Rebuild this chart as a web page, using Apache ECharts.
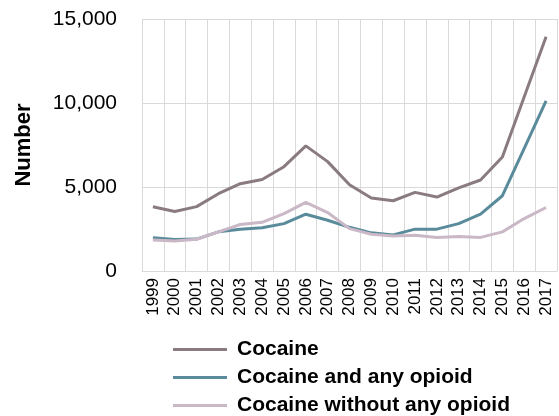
<!DOCTYPE html>
<html>
<head>
<meta charset="utf-8">
<script src="https://cdn.jsdelivr.net/npm/echarts@6/dist/echarts.min.js"></script>
<style>html,body{margin:0;padding:0;background:#fff}#c{width:559px;height:416px}</style>
</head>
<body>
<div id="c"></div>
<script>
const years = ['1999','2000','2001','2002','2003','2004','2005','2006','2007','2008','2009','2010','2011','2012','2013','2014','2015','2016','2017'];
const cocaine = [3822,3544,3833,4599,5199,5443,6208,7448,6512,5129,4350,4183,4681,4404,4944,5415,6784,10375,13942];
const cocaineOpioid = [1976,1880,1900,2330,2490,2570,2820,3380,3020,2600,2270,2150,2490,2490,2820,3380,4480,7300,10130];
const cocaineNoOpioid = [1846,1780,1890,2330,2767,2900,3420,4080,3480,2520,2190,2090,2130,2000,2050,2000,2330,3120,3780];
const yTicks = [0,5000,10000,15000];

const chart = echarts.init(document.getElementById('c'), null, {renderer:'canvas'});
const font = "'Liberation Sans', Arial, sans-serif";
chart.setOption({
  animation:false,
  backgroundColor:'#fff',
  grid:{left:142,right:2,top:19,bottom:145,containLabel:false},
  legend:{
    orient:'vertical', left:173, top:339, height:90, padding:0, icon:'rect', itemWidth:54, itemHeight:3, itemGap:7,
    textStyle:{fontFamily:font,fontSize:21,fontWeight:'bold',color:'#000',lineHeight:18,padding:[0,0,0,5]},
    data:['Cocaine','Cocaine and any opioid','Cocaine without any opioid']
  },
  xAxis:{
    type:'category', data:years, boundaryGap:true,
    axisLine:{lineStyle:{color:'#d9d9d9',width:1}},
    axisTick:{show:false},
    splitLine:{show:true,lineStyle:{color:'#d9d9d9',width:1}},
    axisLabel:{rotate:90,margin:7,interval:0,fontFamily:font,fontSize:17,color:'#000'}
  },
  yAxis:{
    type:'value', min:yTicks[0], max:yTicks[yTicks.length-1], interval:yTicks[1]-yTicks[0],
    name:'Number', nameLocation:'middle', nameGap:107, nameRotate:90,
    nameTextStyle:{fontFamily:font,fontSize:22,fontWeight:'bold',color:'#000'},
    axisLine:{show:false}, axisTick:{show:false},
    splitLine:{lineStyle:{color:'#d9d9d9',width:1}},
    axisLabel:{margin:25,fontFamily:font,fontSize:21,color:'#000',formatter:v=>v.toLocaleString('en-US')}
  },
  series:[
    {name:'Cocaine',type:'line',data:cocaine,showSymbol:false,symbol:'none',lineStyle:{width:3,color:'#8a7b80'},itemStyle:{color:'#8a7b80'}},
    {name:'Cocaine and any opioid',type:'line',data:cocaineOpioid,showSymbol:false,symbol:'none',lineStyle:{width:3,color:'#5a8b9b'},itemStyle:{color:'#5a8b9b'}},
    {name:'Cocaine without any opioid',type:'line',data:cocaineNoOpioid,showSymbol:false,symbol:'none',lineStyle:{width:3,color:'#cab8c7'},itemStyle:{color:'#cab8c7'}}
  ]
});
</script>
</body>
</html>
